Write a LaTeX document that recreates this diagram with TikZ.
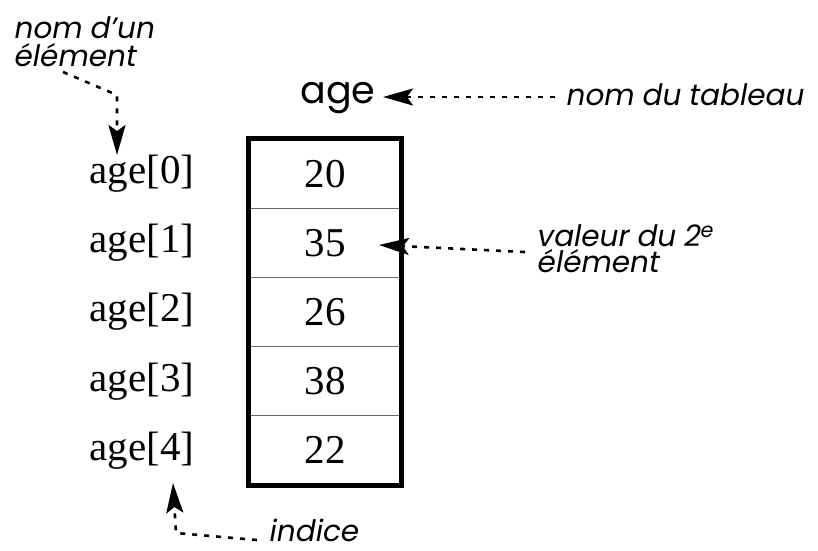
\documentclass[tikz,border=0pt]{standalone}
\usepackage{fontspec}
\setmainfont{Liberation Serif}
\newfontfamily\labfont[FakeSlant=0.18]{Poppins}
\newfontfamily\namefont{Poppins}
\usetikzlibrary{arrows.meta}
\begin{document}
\begin{tikzpicture}[x=1pt,y=-1pt,
  cell/.style={draw=black!60, line width=0.8pt, minimum width=152pt, minimum height=69.2pt, inner sep=0pt, font=\fontsize{41}{45}\selectfont},
  idx/.style={font=\fontsize{41}{45}\selectfont, inner sep=0pt},
  lab/.style={font=\labfont\fontsize{29.5}{28}\selectfont, inner sep=0pt, align=left},
  arr/.style={line width=2.6pt, dash pattern=on 5pt off 7pt, -{Stealth[length=30pt,width=17pt,inset=6pt]}},
  ]
\useasboundingbox (0,0) rectangle (818,550);
\foreach \v/\i in {20/0,35/1,26/2,38/3,22/4}{
  \node[cell] (c\i) at (325,{173.6+69.2*\i}) {\v};
  \node[idx] (a\i) at (142,{173.6+69.2*\i}) {age[\i]};
}
\draw[line width=4.5pt] (c0.north west) rectangle (c4.south east);
\node[font=\namefont\fontsize{38}{40}\selectfont, inner sep=0pt, anchor=base] (name) at (338,103) {age};
\node[lab, anchor=base west] (tab) at (565,105) {nom du tableau};
\node[lab, anchor=north west] (elt) at (13,16) {nom d’un\\élément};
\node[lab, anchor=north west, font=\labfont\fontsize{29.5}{26.5}\selectfont] (val) at (536,224) {valeur du 2\textsuperscript{e}\\élément};
\node[lab, anchor=base west, text depth=0pt] (ind) at (268,541) {indice};
\coordinate (t1) at (555,97);
\coordinate (h1) at (383,97);
\draw[arr] (t1) -- (h1);
\coordinate (e1) at (63,72);
\coordinate (e2) at (117,95);
\coordinate (e3) at (117,155);
\draw[arr] (e1) -- (e2) -- (e3);
\coordinate (v1) at (525,252);
\coordinate (v2) at (379,245);
\draw[arr] (v1) -- (v2);
\coordinate (i1) at (257,540);
\coordinate (i2) at (176,533);
\coordinate (i3) at (173,483);
\draw[arr] (i1) -- (i2) -- (i3);
\end{tikzpicture}
\end{document}
